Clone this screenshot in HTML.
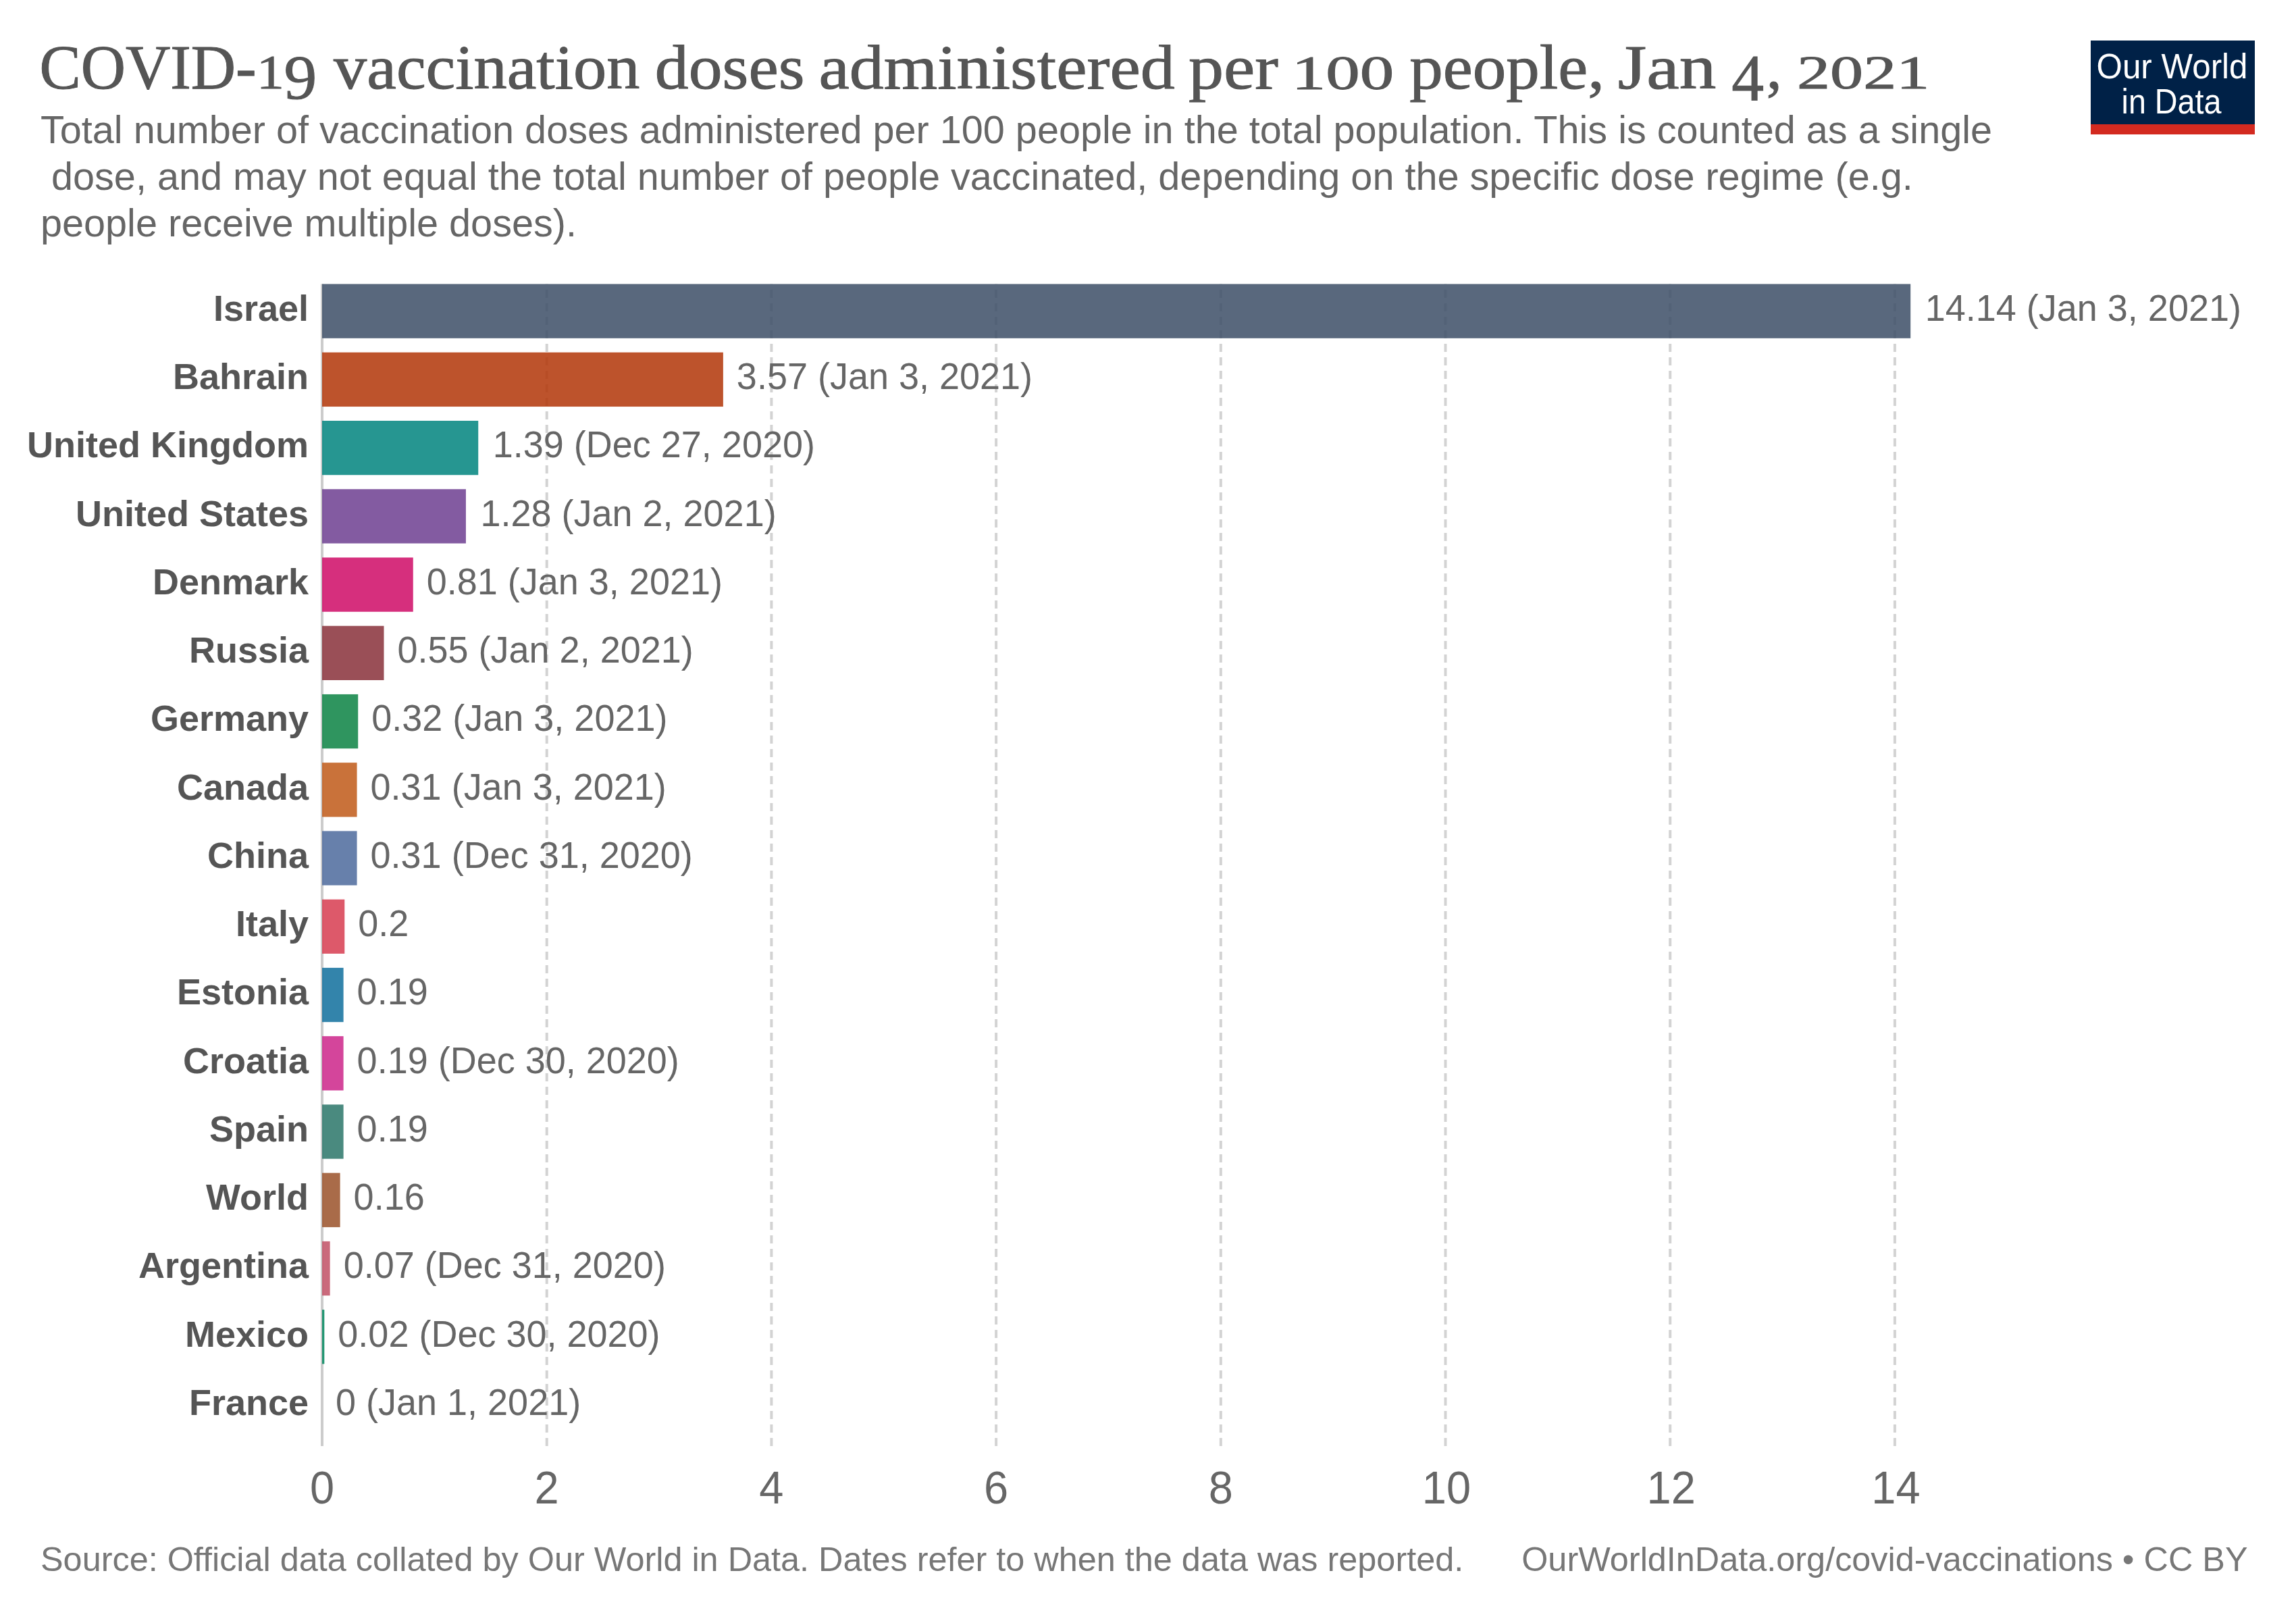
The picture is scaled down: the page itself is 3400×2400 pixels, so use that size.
<!DOCTYPE html>
<html><head><meta charset="utf-8"><title>COVID-19 vaccination doses administered per 100 people, Jan 4, 2021</title>
<style>
html,body{margin:0;padding:0;background:#fff;width:3400px;height:2400px;overflow:hidden;}
svg{display:block;}
.sans{font-family:'Liberation Sans', Arial, Helvetica, sans-serif;}
.serif{font-family:'Liberation Serif', Georgia, 'Times New Roman', serif;}
</style></head><body>
<svg width="3400" height="2400" viewBox="0 0 3400 2400">
<rect x="0" y="0" width="3400" height="2400" fill="#ffffff"/>
<text class="serif" fill="#555555" stroke="#555555" stroke-width="1"><tspan x="58.53" y="131.3" font-size="93" textLength="321.14" lengthAdjust="spacingAndGlyphs">COVID-</tspan><tspan x="380.05" y="131.3" font-size="71.6" textLength="40.86" lengthAdjust="spacingAndGlyphs">1</tspan><tspan x="420.58" y="146.16" font-size="93.58" textLength="48.72" lengthAdjust="spacingAndGlyphs">9</tspan> <tspan x="494.1" y="131.3" font-size="93" textLength="453.27" lengthAdjust="spacingAndGlyphs">vaccination</tspan> <tspan x="969.81" y="131.3" font-size="93" textLength="221.7" lengthAdjust="spacingAndGlyphs">doses</tspan> <tspan x="1212.43" y="131.3" font-size="93" textLength="527.5" lengthAdjust="spacingAndGlyphs">administered</tspan> <tspan x="1760.04" y="131.3" font-size="93" textLength="132.98" lengthAdjust="spacingAndGlyphs">per</tspan> <tspan x="1912.81" y="131.69" font-size="71.11" textLength="151.42" lengthAdjust="spacingAndGlyphs">100</tspan> <tspan x="2087.21" y="131.3" font-size="93" textLength="288.78" lengthAdjust="spacingAndGlyphs">people,</tspan> <tspan x="2395.72" y="131.3" font-size="93" textLength="145.55" lengthAdjust="spacingAndGlyphs">Jan</tspan> <tspan x="2564.19" y="147.68" font-size="96.92" textLength="47.85" lengthAdjust="spacingAndGlyphs">4</tspan><tspan x="2615.8" y="131.3" font-size="93" textLength="23.1" lengthAdjust="spacingAndGlyphs">,</tspan> <tspan x="2661.09" y="131.19" font-size="70.67" textLength="196.2" lengthAdjust="spacingAndGlyphs">2021</tspan></text>
<text class="sans" x="60" y="212.2" font-size="57.6" fill="#666666" xml:space="preserve">Total number of vaccination doses administered per 100 people in the total population. This is counted as a single</text>
<text class="sans" x="60" y="281.0" font-size="57.6" fill="#666666" xml:space="preserve">&#160;dose, and may not equal the total number of people vaccinated, depending on the specific dose regime (e.g.</text>
<text class="sans" x="60" y="349.8" font-size="57.6" fill="#666666" xml:space="preserve">people receive multiple doses).</text>
<rect x="3096" y="60" width="243" height="124" fill="#002147"/>
<rect x="3096" y="184" width="243" height="15" fill="#d32a20"/>
<text class="sans" x="3216.5" y="115.8" font-size="51.5" fill="#ffffff" text-anchor="middle" textLength="224" lengthAdjust="spacingAndGlyphs">Our World</text>
<text class="sans" x="3215.5" y="168" font-size="51.5" fill="#ffffff" text-anchor="middle" textLength="148" lengthAdjust="spacingAndGlyphs">in Data</text>
<line x1="809.70" y1="2141.0" x2="809.70" y2="420.5" stroke="#d3d3d3" stroke-width="4" stroke-dasharray="12,8"/>
<line x1="1142.40" y1="2141.0" x2="1142.40" y2="420.5" stroke="#d3d3d3" stroke-width="4" stroke-dasharray="12,8"/>
<line x1="1475.10" y1="2141.0" x2="1475.10" y2="420.5" stroke="#d3d3d3" stroke-width="4" stroke-dasharray="12,8"/>
<line x1="1807.80" y1="2141.0" x2="1807.80" y2="420.5" stroke="#d3d3d3" stroke-width="4" stroke-dasharray="12,8"/>
<line x1="2140.50" y1="2141.0" x2="2140.50" y2="420.5" stroke="#d3d3d3" stroke-width="4" stroke-dasharray="12,8"/>
<line x1="2473.20" y1="2141.0" x2="2473.20" y2="420.5" stroke="#d3d3d3" stroke-width="4" stroke-dasharray="12,8"/>
<line x1="2805.90" y1="2141.0" x2="2805.90" y2="420.5" stroke="#d3d3d3" stroke-width="4" stroke-dasharray="12,8"/>
<line x1="477.0" y1="420.5" x2="477.0" y2="2141.0" stroke="#cccccc" stroke-width="4"/>
<rect x="477.0" y="420.50" width="2352.19" height="80.3" fill="#3c4e66" fill-opacity="0.85"/>
<text class="sans" x="457" y="475.00" font-size="54" font-weight="bold" fill="#555555" text-anchor="end">Israel</text>
<text class="sans" transform="matrix(1 0 0 1.041 0 -19.475)" x="2850.69" y="475.00" font-size="54" fill="#666666">14.14 (Jan 3, 2021)</text>
<rect x="477.0" y="521.74" width="593.87" height="80.3" fill="#b13507" fill-opacity="0.85"/>
<text class="sans" x="457" y="576.24" font-size="54" font-weight="bold" fill="#555555" text-anchor="end">Bahrain</text>
<text class="sans" transform="matrix(1 0 0 1.041 0 -23.626)" x="1090.87" y="576.24" font-size="54" fill="#666666">3.57 (Jan 3, 2021)</text>
<rect x="477.0" y="622.98" width="231.23" height="80.3" fill="#00847e" fill-opacity="0.85"/>
<text class="sans" x="457" y="677.48" font-size="54" font-weight="bold" fill="#555555" text-anchor="end">United Kingdom</text>
<text class="sans" transform="matrix(1 0 0 1.041 0 -27.777)" x="729.73" y="677.48" font-size="54" fill="#666666">1.39 (Dec 27, 2020)</text>
<rect x="477.0" y="724.22" width="212.93" height="80.3" fill="#6d3e91" fill-opacity="0.85"/>
<text class="sans" x="457" y="778.72" font-size="54" font-weight="bold" fill="#555555" text-anchor="end">United States</text>
<text class="sans" transform="matrix(1 0 0 1.041 0 -31.928)" x="711.43" y="778.72" font-size="54" fill="#666666">1.28 (Jan 2, 2021)</text>
<rect x="477.0" y="825.46" width="134.74" height="80.3" fill="#cf0a66" fill-opacity="0.85"/>
<text class="sans" x="457" y="879.96" font-size="54" font-weight="bold" fill="#555555" text-anchor="end">Denmark</text>
<text class="sans" transform="matrix(1 0 0 1.041 0 -36.078)" x="631.74" y="879.96" font-size="54" fill="#666666">0.81 (Jan 3, 2021)</text>
<rect x="477.0" y="926.70" width="91.49" height="80.3" fill="#883039" fill-opacity="0.85"/>
<text class="sans" x="457" y="981.20" font-size="54" font-weight="bold" fill="#555555" text-anchor="end">Russia</text>
<text class="sans" transform="matrix(1 0 0 1.041 0 -40.229)" x="588.49" y="981.20" font-size="54" fill="#666666">0.55 (Jan 2, 2021)</text>
<rect x="477.0" y="1027.94" width="53.23" height="80.3" fill="#0a8243" fill-opacity="0.85"/>
<text class="sans" x="457" y="1082.44" font-size="54" font-weight="bold" fill="#555555" text-anchor="end">Germany</text>
<text class="sans" transform="matrix(1 0 0 1.041 0 -44.380)" x="550.23" y="1082.44" font-size="54" fill="#666666">0.32 (Jan 3, 2021)</text>
<rect x="477.0" y="1129.18" width="51.57" height="80.3" fill="#c05917" fill-opacity="0.85"/>
<text class="sans" x="457" y="1183.68" font-size="54" font-weight="bold" fill="#555555" text-anchor="end">Canada</text>
<text class="sans" transform="matrix(1 0 0 1.041 0 -48.531)" x="548.57" y="1183.68" font-size="54" fill="#666666">0.31 (Jan 3, 2021)</text>
<rect x="477.0" y="1230.42" width="51.57" height="80.3" fill="#4c6a9c" fill-opacity="0.85"/>
<text class="sans" x="457" y="1284.92" font-size="54" font-weight="bold" fill="#555555" text-anchor="end">China</text>
<text class="sans" transform="matrix(1 0 0 1.041 0 -52.682)" x="548.57" y="1284.92" font-size="54" fill="#666666">0.31 (Dec 31, 2020)</text>
<rect x="477.0" y="1331.66" width="33.27" height="80.3" fill="#d73c50" fill-opacity="0.85"/>
<text class="sans" x="457" y="1386.16" font-size="54" font-weight="bold" fill="#555555" text-anchor="end">Italy</text>
<text class="sans" transform="matrix(1 0 0 1.041 0 -56.833)" x="530.27" y="1386.16" font-size="54" fill="#666666">0.2</text>
<rect x="477.0" y="1432.90" width="31.61" height="80.3" fill="#0f6f9c" fill-opacity="0.85"/>
<text class="sans" x="457" y="1487.40" font-size="54" font-weight="bold" fill="#555555" text-anchor="end">Estonia</text>
<text class="sans" transform="matrix(1 0 0 1.041 0 -60.983)" x="528.61" y="1487.40" font-size="54" fill="#666666">0.19</text>
<rect x="477.0" y="1534.14" width="31.61" height="80.3" fill="#cd248a" fill-opacity="0.85"/>
<text class="sans" x="457" y="1588.64" font-size="54" font-weight="bold" fill="#555555" text-anchor="end">Croatia</text>
<text class="sans" transform="matrix(1 0 0 1.041 0 -65.134)" x="528.61" y="1588.64" font-size="54" fill="#666666">0.19 (Dec 30, 2020)</text>
<rect x="477.0" y="1635.38" width="31.61" height="80.3" fill="#2a7568" fill-opacity="0.85"/>
<text class="sans" x="457" y="1689.88" font-size="54" font-weight="bold" fill="#555555" text-anchor="end">Spain</text>
<text class="sans" transform="matrix(1 0 0 1.041 0 -69.285)" x="528.61" y="1689.88" font-size="54" fill="#666666">0.19</text>
<rect x="477.0" y="1736.62" width="26.62" height="80.3" fill="#9a5129" fill-opacity="0.85"/>
<text class="sans" x="457" y="1791.12" font-size="54" font-weight="bold" fill="#555555" text-anchor="end">World</text>
<text class="sans" transform="matrix(1 0 0 1.041 0 -73.436)" x="523.62" y="1791.12" font-size="54" fill="#666666">0.16</text>
<rect x="477.0" y="1837.86" width="11.64" height="80.3" fill="#c15065" fill-opacity="0.85"/>
<text class="sans" x="457" y="1892.36" font-size="54" font-weight="bold" fill="#555555" text-anchor="end">Argentina</text>
<text class="sans" transform="matrix(1 0 0 1.041 0 -77.587)" x="508.64" y="1892.36" font-size="54" fill="#666666">0.07 (Dec 31, 2020)</text>
<rect x="477.0" y="1939.10" width="3.33" height="80.3" fill="#00875e" fill-opacity="0.85"/>
<text class="sans" x="457" y="1993.60" font-size="54" font-weight="bold" fill="#555555" text-anchor="end">Mexico</text>
<text class="sans" transform="matrix(1 0 0 1.041 0 -81.738)" x="500.33" y="1993.60" font-size="54" fill="#666666">0.02 (Dec 30, 2020)</text>
<text class="sans" x="457" y="2094.84" font-size="54" font-weight="bold" fill="#555555" text-anchor="end">France</text>
<text class="sans" transform="matrix(1 0 0 1.041 0 -85.888)" x="497.00" y="2094.84" font-size="54" fill="#666666">0 (Jan 1, 2021)</text>
<text class="sans" transform="matrix(1 0 0 1.041 0 -91.266)" x="477.00" y="2226" font-size="65" fill="#666666" text-anchor="middle">0</text>
<text class="sans" transform="matrix(1 0 0 1.041 0 -91.266)" x="809.70" y="2226" font-size="65" fill="#666666" text-anchor="middle">2</text>
<text class="sans" transform="matrix(1 0 0 1.041 0 -91.266)" x="1142.40" y="2226" font-size="65" fill="#666666" text-anchor="middle">4</text>
<text class="sans" transform="matrix(1 0 0 1.041 0 -91.266)" x="1475.10" y="2226" font-size="65" fill="#666666" text-anchor="middle">6</text>
<text class="sans" transform="matrix(1 0 0 1.041 0 -91.266)" x="1807.80" y="2226" font-size="65" fill="#666666" text-anchor="middle">8</text>
<text class="sans" transform="matrix(1 0 0 1.041 0 -91.266)" x="2142.00" y="2226" font-size="65" fill="#666666" text-anchor="middle">10</text>
<text class="sans" transform="matrix(1 0 0 1.041 0 -91.266)" x="2474.70" y="2226" font-size="65" fill="#666666" text-anchor="middle">12</text>
<text class="sans" transform="matrix(1 0 0 1.041 0 -91.266)" x="2807.40" y="2226" font-size="65" fill="#666666" text-anchor="middle">14</text>
<text class="sans" x="60" y="2325.8" font-size="50.4" fill="#777777">Source: Official data collated by Our World in Data. Dates refer to when the data was reported.</text>
<text class="sans" x="3328.5" y="2325.8" font-size="50.4" fill="#777777" text-anchor="end">OurWorldInData.org/covid-vaccinations • CC BY</text>
</svg>
</body></html>
